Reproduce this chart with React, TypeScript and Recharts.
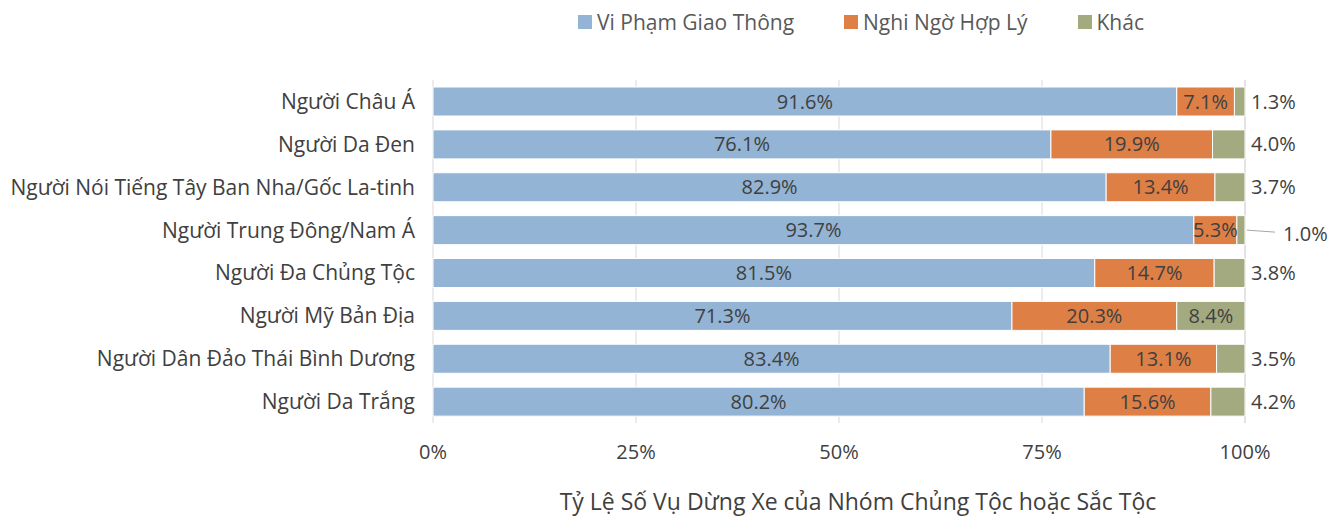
import React from "react";
import { BarChart, Bar, XAxis, YAxis, CartesianGrid, LabelList } from "recharts";

// nhóm chủng tộc / sắc tộc (trên xuống dưới)
const groups = [
  "Người Châu Á",
  "Người Da Đen",
  "Người Nói Tiếng Tây Ban Nha/Gốc La-tinh",
  "Người Trung Đông/Nam Á",
  "Người Đa Chủng Tộc",
  "Người Mỹ Bản Địa",
  "Người Dân Đảo Thái Bình Dương",
  "Người Da Trắng",
];
const traffic = [91.6, 76.1, 82.9, 93.7, 81.5, 71.3, 83.4, 80.2];
const suspicion = [7.1, 19.9, 13.4, 5.3, 14.7, 20.3, 13.1, 15.6];
const other = [1.3, 4.0, 3.7, 1.0, 3.8, 8.4, 3.5, 4.2];
const xTicks = [0, 25, 50, 75, 100];
const seriesNames = ["Vi Phạm Giao Thông", "Nghi Ngờ Hợp Lý", "Khác"];
const axisTitle = "Tỷ Lệ Số Vụ Dừng Xe của Nhóm Chủng Tộc hoặc Sắc Tộc";

const COLORS = ["#93b4d4", "#de7f46", "#a4aa80"];
const FONT = "'Open Sans', sans-serif";
const TEXT = "#404040";
const FS = 20;

const data = groups.map((g, i) => ({
  group: g,
  traffic: traffic[i],
  suspicion: suspicion[i],
  other: other[i],
}));

const pct = (v: number) => `${Number(v).toFixed(1)}%`;

function OtherLabel(props: any) {
  const { x, y, width, height, value } = props;
  const cy = y + height / 2;
  if (value >= 5) {
    return (
      <text x={x + width / 2} y={cy} dy={7} textAnchor="middle" fill={TEXT} fontSize={FS} fontFamily={FONT}>
        {pct(value)}
      </text>
    );
  }
  const end = x + width;
  if (value <= 1) {
    return (
      <g>
        <line x1={end + 2} y1={cy} x2={end + 30} y2={cy + 2} stroke="#a6a6a6" strokeWidth={1} />
        <text x={end + 38} y={cy + 4} dy={7} textAnchor="start" fill={TEXT} fontSize={FS} fontFamily={FONT}>
          {pct(value)}
        </text>
      </g>
    );
  }
  return (
    <text x={end + 6} y={cy} dy={7} textAnchor="start" fill={TEXT} fontSize={FS} fontFamily={FONT}>
      {pct(value)}
    </text>
  );
}

function LegendBox() {
  return (
    <div
      style={{
        position: "absolute",
        left: 578,
        top: 8,
        display: "flex",
        alignItems: "center",
        fontFamily: FONT,
        fontSize: 21,
        lineHeight: "28px",
        color: "#595959",
      }}
    >
      {seriesNames.map((n, i) => (
        <div key={n} style={{ display: "flex", alignItems: "center", marginRight: i < 2 ? 50 : 0 }}>
          <span style={{ display: "inline-block", width: 14, height: 14, background: COLORS[i], marginRight: 5 }} />
          <span>{n}</span>
        </div>
      ))}
    </div>
  );
}

export default function App() {
  return (
    <div style={{ position: "absolute", left: 0, top: 0, width: 1341, height: 517, background: "#fff" }}>
      <BarChart
        width={1341}
        height={517}
        data={data}
        layout="vertical"
        margin={{ top: 80, right: 96, bottom: 0, left: 0 }}
        barCategoryGap={7}
        style={{ fontFamily: FONT }}
      >
        <CartesianGrid horizontal={false} stroke="#d9d9d9" />
        <XAxis
          type="number"
          domain={[0, 100]}
          ticks={xTicks}
          tickFormatter={(v) => `${v}%`}
          axisLine={false}
          tickLine={false}
          tickSize={0}
          tickMargin={22}
          height={94}
          tick={{ fill: TEXT, fontSize: FS, fontFamily: FONT }}
          label={{
            value: axisTitle,
            position: "insideBottom",
            offset: 7,
            dx: 19,
            fill: TEXT,
            fontSize: 23,
            fontFamily: FONT,
          }}
        />
        <YAxis
          type="category"
          dataKey="group"
          width={433}
          axisLine={false}
          tickLine={false}
          tickSize={0}
          tickMargin={18}
          tick={{ fill: TEXT, fontSize: 21, fontFamily: FONT }}
        />
        <Bar dataKey="traffic" name={seriesNames[0]} stackId="a" fill={COLORS[0]} stroke="#fff" strokeWidth={1} isAnimationActive={false}>
          <LabelList dataKey="traffic" position="center" formatter={pct} fill={TEXT} fontSize={FS} fontFamily={FONT} />
        </Bar>
        <Bar dataKey="suspicion" name={seriesNames[1]} stackId="a" fill={COLORS[1]} stroke="#fff" strokeWidth={1} isAnimationActive={false}>
          <LabelList dataKey="suspicion" position="center" formatter={pct} fill={TEXT} fontSize={FS} fontFamily={FONT} />
        </Bar>
        <Bar dataKey="other" name={seriesNames[2]} stackId="a" fill={COLORS[2]} stroke="#fff" strokeWidth={1} isAnimationActive={false}>
          <LabelList dataKey="other" content={OtherLabel} />
        </Bar>
      </BarChart>
      <LegendBox />
    </div>
  );
}
